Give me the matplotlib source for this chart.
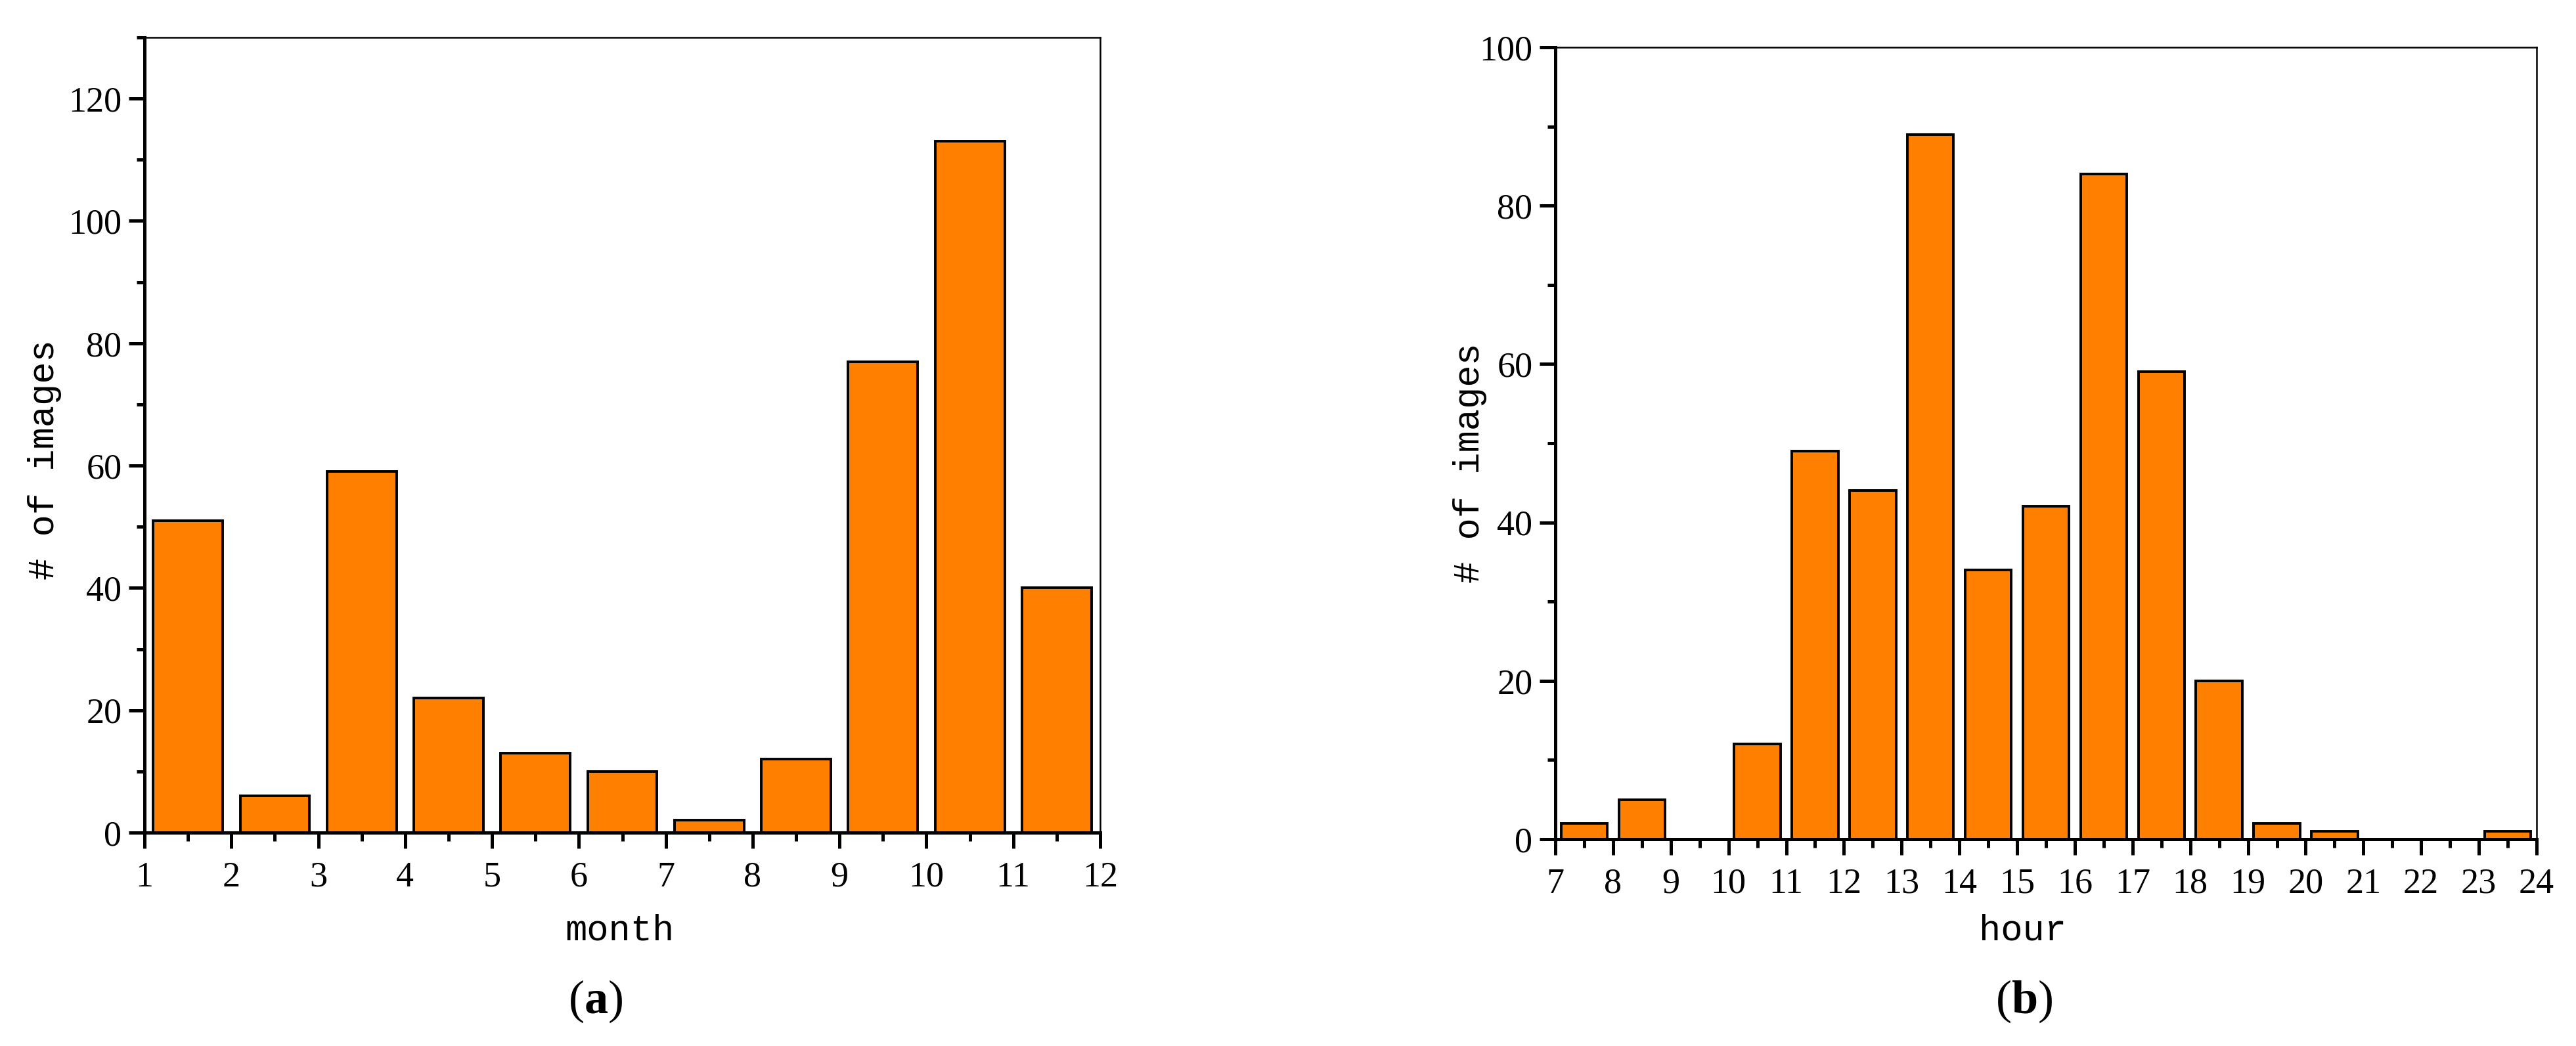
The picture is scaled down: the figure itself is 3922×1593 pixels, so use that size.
import matplotlib
matplotlib.use("Agg")
import matplotlib.pyplot as plt
from matplotlib.ticker import MultipleLocator
import numpy as np

# ---- data ----
months = [1, 2, 3, 4, 5, 6, 7, 8, 9, 10, 11]
month_counts = [51, 6, 59, 22, 13, 10, 2, 12, 77, 113, 40]
month_ticks = list(range(1, 13))

hours = [7, 8, 9, 10, 11, 12, 13, 14, 15, 16, 17, 18, 19, 20, 21, 22, 23]
hour_counts = [2, 5, 0, 12, 49, 44, 89, 34, 42, 84, 59, 20, 2, 1, 0, 0, 1]
hour_ticks = list(range(7, 25))

BAR_COLOR = "#ff8000"
W, H = 3922, 1593
DPI = 100

plt.rcParams["mathtext.fontset"] = "custom"
plt.rcParams["mathtext.rm"] = "Liberation Serif"
plt.rcParams["mathtext.bf"] = "Liberation Serif:bold"

fig = plt.figure(figsize=(W / DPI, H / DPI), dpi=DPI)

def px_axes(x0, y0, x1, y1):
    return fig.add_axes([x0 / W, 1 - y1 / H, (x1 - x0) / W, (y1 - y0) / H])

ax1 = px_axes(220, 57, 1675, 1268)
ax2 = px_axes(2368, 72, 3862, 1278)

tick_font = dict(family="Liberation Serif", size=39)
label_font = dict(family="Liberation Mono", size=40)

def style(ax, xticks, ylim, ymaj, ymin):
    ax.set_xlim(xticks[0], xticks[-1])
    ax.set_ylim(*ylim)
    ax.set_xticks(xticks)
    ax.xaxis.set_minor_locator(MultipleLocator(0.5))
    ax.yaxis.set_major_locator(MultipleLocator(ymaj))
    ax.yaxis.set_minor_locator(MultipleLocator(ymin))
    for s in ["left", "bottom"]:
        ax.spines[s].set_linewidth(3.6)
    for s in ["top", "right"]:
        ax.spines[s].set_linewidth(1.8)
    ax.tick_params(which="major", direction="out", length=17, width=3.6)
    ax.tick_params(axis="x", which="major", pad=14)
    ax.tick_params(axis="y", which="major", pad=8)
    ax.tick_params(which="minor", direction="out", length=9, width=3.6)
    ax.tick_params(top=False, right=False, which="both")
    for lab in ax.get_xticklabels() + ax.get_yticklabels():
        lab.set_fontfamily(tick_font["family"])
        lab.set_fontsize(tick_font["size"])

ax1.bar(np.array(months) + 0.5, month_counts, width=0.8, color=BAR_COLOR,
        edgecolor="black", linewidth=2.8, zorder=2)
style(ax1, month_ticks, (0, 130), 20, 10)

ax2.bar(np.array(hours) + 0.5, hour_counts, width=0.8, color=BAR_COLOR,
        edgecolor="black", linewidth=2.8, zorder=2)
style(ax2, hour_ticks, (0, 100), 20, 10)

# axis labels
fig.text(68 / W, 1 - 700 / H, "# of images", rotation=90, ha="center", va="center", **label_font)
fig.text(2238 / W, 1 - 705 / H, "# of images", rotation=90, ha="center", va="center", **label_font)
fig.text(943 / W, 1 - 1418 / H, "month", ha="center", va="center", **label_font)
fig.text(3080 / W, 1 - 1418 / H, "hour", ha="center", va="center", **label_font)

# panel letters
fig.text(907 / W, 1 - 1525 / H, r"($\mathbf{a}$)", ha="center", va="center",
         family="Liberation Serif", size=52)
fig.text(3082 / W, 1 - 1525 / H, r"($\mathbf{b}$)", ha="center", va="center",
         family="Liberation Serif", size=52)

fig.savefig("out.png", dpi=DPI)
